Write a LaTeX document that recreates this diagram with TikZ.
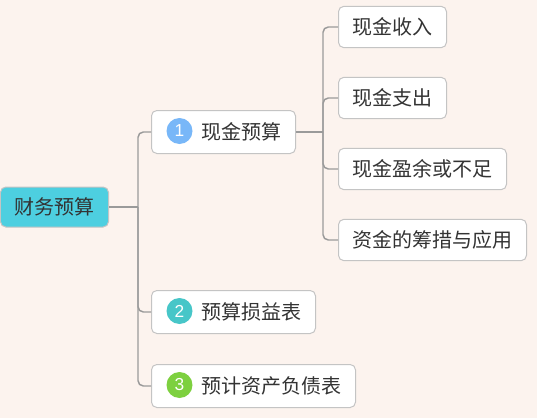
\documentclass[tikz,border=0pt]{standalone}
\usepackage{fontspec}
\newfontfamily\cjk{Noto Sans CJK SC}
\newfontfamily\digits{Liberation Sans}
\usepackage{tikz}
\usetikzlibrary{calc, positioning}
\definecolor{bgcol}{HTML}{FCF3EE}
\definecolor{linecol}{HTML}{9A9A9A}
\definecolor{boxline}{HTML}{C4C4C4}
\definecolor{rootcol}{HTML}{4DCFE0}
\definecolor{txtcol}{HTML}{333333}
\definecolor{badgeA}{HTML}{78B7F8}
\definecolor{badgeB}{HTML}{47C6C8}
\definecolor{badgeC}{HTML}{7DD03F}
\begin{document}
\begin{tikzpicture}[x=0.75pt,y=-0.75pt,
  topic/.style={draw=boxline,line width=0.75pt,fill=white,rounded corners=4pt,
    inner xsep=10.5pt,inner ysep=0pt,minimum height=31pt,anchor=west,
    text=txtcol,font=\cjk\fontsize{15}{18}\selectfont},
  major/.style={topic,minimum height=32.25pt},
  root/.style={topic,fill=rootcol,minimum height=30pt},
  badge/.style={circle,minimum size=19.5pt,inner sep=0pt,text=white,
    font=\digits\fontsize{13}{15}\selectfont},
  link/.style={draw=linecol,line width=1.1pt,rounded corners=4pt}]%
\fill[bgcol] (0,0) rectangle (537,418);
\useasboundingbox (0,0) rectangle (537,418);
% main branch
\draw node [root]  (R)  at (0,207)   {财务预算};
\draw node [major] (T1) at (151,132) {\hspace*{27pt}现金预算};
\draw node [major] (T2) at (151,312) {\hspace*{27pt}预算损益表};
\draw node [major] (T3) at (151,386) {\hspace*{27pt}预计资产负债表};
\node [badge,fill=badgeA] (B1) at ($ (T1.west) + (28.5,-1) $) {1};
\node [badge,fill=badgeB] (B2) at ($ (T2.west) + (28.5,-1) $) {2};
\node [badge,fill=badgeC] (B3) at ($ (T3.west) + (28.5,-1) $) {3};
% cash budget items
\draw node [topic] (C1) at (338,27)  {现金收入};
\draw node [topic] (C2) at (338,98)  {现金支出};
\draw node [topic] (C3) at (338,169) {现金盈余或不足};
\draw node [topic] (C4) at (338,240) {资金的筹措与应用};
\coordinate (JR) at ($ (R.east) + (29,0) $);
\coordinate (J1) at ($ (T1.east) + (27,0) $);
\draw [link] (R.east) -- (JR);
\foreach \t in {T1,T2,T3} \draw [link] (JR) |- (\t.west);
\draw [link] (T1.east) -- (J1);
\foreach \c in {C1,C2,C3,C4} \draw [link] (J1) |- (\c.west);
\end{tikzpicture}
\end{document}
